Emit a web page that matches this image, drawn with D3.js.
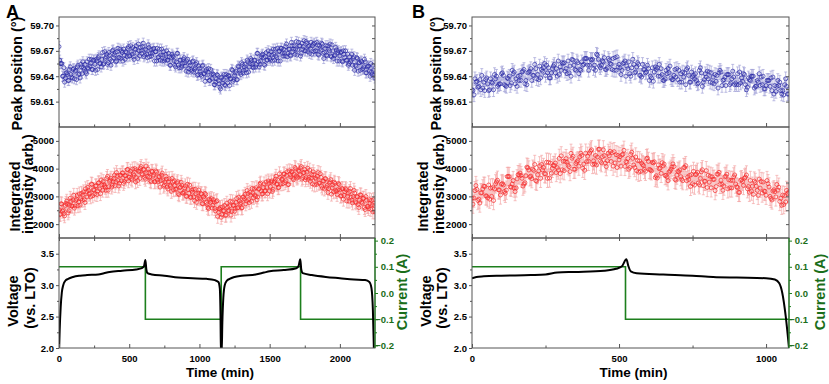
<!DOCTYPE html>
<html><head><meta charset="utf-8">
<script src="https://cdn.jsdelivr.net/npm/d3@7"></script>
<style>
body{margin:0;background:#fff}
text{font-family:Arial,"Liberation Sans",sans-serif;font-weight:bold}
</style></head>
<body><svg id="c" width="829" height="384"></svg>
<script>
// ---------------- data ----------------
// scans every 10 min; extra interleaved scan sets start at the given offsets (min)
const stepA = 10, offsetsA = [0, 5];
const stepB = 10, offsetsB = [0, 3.3, 6.7];

const peakA = [59.675,59.655,59.655,59.640,59.633,59.644,59.642,59.635,59.651,59.639,
59.648,59.637,59.647,59.651,59.642,59.638,59.651,59.657,59.648,59.645,
59.657,59.649,59.652,59.660,59.648,59.659,59.647,59.658,59.662,59.655,
59.651,59.668,59.655,59.661,59.666,59.656,59.665,59.653,59.670,59.662,
59.668,59.658,59.673,59.662,59.661,59.668,59.672,59.660,59.668,59.673,
59.664,59.676,59.666,59.663,59.672,59.676,59.661,59.670,59.674,59.667,
59.679,59.665,59.671,59.662,59.674,59.667,59.664,59.672,59.658,59.669,
59.673,59.663,59.659,59.672,59.665,59.658,59.666,59.659,59.667,59.653,
59.662,59.664,59.658,59.651,59.667,59.653,59.659,59.650,59.655,59.662,
59.652,59.658,59.645,59.656,59.648,59.657,59.645,59.650,59.656,59.642,
59.649,59.642,59.652,59.643,59.634,59.648,59.645,59.635,59.648,59.637,
59.642,59.630,59.637,59.641,59.631,59.625,59.639,59.636,59.630,59.642,
59.632,59.640,59.637,59.648,59.634,59.641,59.646,59.636,59.651,59.644,
59.656,59.644,59.651,59.648,59.659,59.645,59.655,59.659,59.651,59.659,
59.651,59.667,59.657,59.654,59.663,59.666,59.654,59.663,59.659,59.670,
59.661,59.669,59.658,59.666,59.672,59.662,59.658,59.670,59.673,59.667,
59.672,59.664,59.678,59.667,59.672,59.664,59.676,59.672,59.666,59.681,
59.671,59.676,59.664,59.679,59.675,59.670,59.681,59.669,59.676,59.673,
59.666,59.678,59.679,59.670,59.677,59.665,59.673,59.679,59.667,59.668,
59.676,59.664,59.672,59.678,59.663,59.670,59.664,59.674,59.658,59.670,
59.664,59.669,59.657,59.666,59.670,59.659,59.653,59.663,59.659,59.653,
59.663,59.653,59.662,59.646,59.656,59.658,59.648,59.651,59.657,59.644,
59.652,59.646,59.655,59.642,59.647,59.638];
const peakA2 = [59.659,59.655,59.640,59.650,59.638,59.644,59.635,59.648,59.642,59.638,
59.649,59.646,59.636,59.653,59.643,59.654,59.643,59.650,59.654,59.643,
59.650,59.660,59.655,59.648,59.659,59.654,59.660,59.648,59.664,59.655,
59.660,59.654,59.669,59.663,59.654,59.668,59.660,59.658,59.671,59.665,
59.657,59.669,59.662,59.672,59.670,59.658,59.665,59.669,59.663,59.675,
59.664,59.669,59.674,59.660,59.672,59.667,59.678,59.664,59.670,59.675,
59.663,59.672,59.666,59.677,59.663,59.672,59.667,59.673,59.669,59.658,
59.662,59.672,59.665,59.658,59.669,59.660,59.670,59.659,59.663,59.653,
59.666,59.663,59.653,59.657,59.667,59.650,59.659,59.652,59.660,59.656,
59.646,59.660,59.649,59.653,59.646,59.658,59.648,59.654,59.641,59.652,
59.646,59.640,59.653,59.643,59.646,59.638,59.649,59.635,59.642,59.643,
59.630,59.633,59.642,59.635,59.627,59.638,59.632,59.642,59.629,59.639,
59.641,59.629,59.637,59.647,59.636,59.644,59.636,59.652,59.647,59.642,
59.654,59.647,59.654,59.644,59.657,59.651,59.661,59.654,59.650,59.659,
59.654,59.667,59.651,59.658,59.665,59.662,59.653,59.668,59.659,59.666,
59.659,59.665,59.672,59.659,59.664,59.673,59.669,59.658,59.673,59.664,
59.667,59.675,59.663,59.672,59.665,59.680,59.669,59.676,59.672,59.665,
59.680,59.676,59.667,59.672,59.682,59.670,59.679,59.675,59.667,59.680,
59.676,59.669,59.670,59.680,59.666,59.676,59.671,59.678,59.661,59.673,
59.665,59.676,59.670,59.664,59.677,59.661,59.665,59.671,59.668,59.658,
59.668,59.658,59.670,59.662,59.659,59.666,59.655,59.657,59.666,59.661,
59.647,59.652,59.661,59.656,59.647,59.657,59.649,59.660,59.644,59.651,
59.652,59.640,59.645,59.653,59.641];
const intA = [2510,2360,2720,2510,2300,2750,2720,2480,2930,2660,
2870,2575,2850,3035,2800,2685,3110,3055,2880,3275,
2980,3215,3120,3445,3020,3225,3370,3065,3480,3265,
3590,3222,3424,3326,3648,3220,3542,3654,3406,3638,
3390,3858,3576,3474,3762,3840,3468,3756,3624,3972,
3690,3910,3590,3810,4000,3680,3570,3910,4010,3810,
3970,3686,4092,3718,3854,3570,3904,3728,3522,3916,
3590,3717,3334,3761,3588,3415,3722,3339,3526,3413,
3180,3518,3556,3264,3482,3100,3318,3506,3124,3162,
3380,2998,3246,3404,2962,3150,2978,3256,2784,3122,
2950,3102,2744,2986,3108,2780,2602,2904,2786,2578,
2880,2560,2810,2280,2560,2600,2344,2478,2672,2326,
2610,2490,2820,2460,2670,2460,2790,2580,2970,2730,
2580,2970,2910,2730,3210,2880,3150,2820,3120,3270,
3000,2875,3260,3435,3190,3095,3450,3205,3320,3555,
3190,3515,3180,3505,3620,3435,3310,3815,3450,3625,
3800,3493,3756,3419,3922,3705,3878,3601,4044,3737,
3700,3904,4018,3622,3856,3970,3676,4012,3688,3544,
3790,3885,3410,3625,3720,3485,3820,3375,3560,3265,
3630,3395,3280,3525,3080,3415,3510,3215,3070,3465,
3230,3025,3270,3035,3280,2835,3110,3175,2970,2765,
3220,2807,2994,2701,2858,3045,2752,2939,2526,2863,
2630,2880,2530,2690,2880,2440];
const intA2 = [2345,2735,2465,2375,2675,2825,2405,2675,2825,2645,
3038,2653,2898,2663,3088,2913,2858,3163,2778,3173,
3323,3078,2983,3428,3243,3088,3383,3198,3493,3098,
3421,3533,3375,3217,3719,3351,3583,3335,3537,3769,
3519,3747,3375,3753,3561,3849,3537,3735,3963,3561,
3815,3645,3985,3755,3525,3955,3905,3645,4075,3785,
3963,3619,3845,3981,3697,3527,3891,3775,3539,3873,
3519,3706,3563,3840,3367,3524,3621,3268,3635,3372,
3649,3237,3395,3253,3531,3059,3337,3405,3113,3301,
3009,3437,3115,2973,3221,3259,2847,3095,2923,3231,
2906,3088,2730,2912,3064,2706,2558,2860,2922,2684,
2795,2475,2845,2435,2535,2247,2621,2485,2319,2753,
2475,2655,2325,2805,2685,2565,2925,2595,2835,2775,
2595,2985,3075,2835,3105,2775,3045,3285,2955,3045,
3313,2978,3273,3478,3083,3318,3193,3518,3093,3478,
3353,3558,3253,3548,3723,3448,3323,3678,3613,3458,
3812,3565,3888,3431,3784,3897,3650,3793,3996,3659,
3937,3781,4075,3679,3853,3598,3874,3610,3946,3652,
3448,3783,3668,3433,3858,3473,3688,3303,3548,3643,
3318,3143,3478,3603,3308,3163,3468,3173,3238,3423,
3008,3283,2898,3173,3238,3003,2828,3283,2868,2993,
3119,2766,2983,2600,3057,2794,2921,2598,2995,2642,
2560,2750,2850,2440,2660];
const peakB = [59.624,59.637,59.627,59.624,59.633,59.638,59.624,59.632,59.637,59.630,
59.643,59.630,59.638,59.629,59.643,59.637,59.635,59.645,59.631,59.644,
59.649,59.641,59.637,59.652,59.646,59.641,59.650,59.644,59.654,59.640,
59.651,59.655,59.649,59.644,59.660,59.648,59.656,59.647,59.654,59.661,
59.653,59.660,59.647,59.660,59.653,59.662,59.650,59.655,59.661,59.647,
59.654,59.647,59.658,59.649,59.640,59.654,59.651,59.641,59.654,59.644,
59.649,59.638,59.645,59.650,59.640,59.635,59.647,59.644,59.636,59.648,
59.636,59.643,59.639,59.648,59.633,59.639,59.643,59.632,59.644,59.636,
59.646,59.633,59.639,59.634,59.644,59.629,59.639,59.642,59.632,59.639,
59.630,59.645,59.634,59.630,59.638,59.640,59.626,59.635,59.629,59.640,
59.629,59.635,59.623,59.629,59.635,59.623,59.618,59.628];
const peakB2 = [59.623,59.633,59.628,59.641,59.623,59.631,59.637,59.624,59.640,59.631,
59.644,59.629,59.637,59.632,59.645,59.628,59.641,59.646,59.635,59.645,
59.635,59.654,59.642,59.638,59.650,59.653,59.638,59.649,59.644,59.658,
59.647,59.656,59.643,59.652,59.659,59.647,59.643,59.657,59.661,59.653,
59.660,59.649,59.666,59.652,59.658,59.648,59.661,59.654,59.647,59.663,
59.650,59.655,59.640,59.657,59.650,59.644,59.656,59.641,59.648,59.645,
59.635,59.650,59.651,59.640,59.649,59.635,59.643,59.652,59.636,59.639,
59.647,59.633,59.644,59.650,59.633,59.641,59.635,59.647,59.628,59.643,
59.637,59.644,59.631,59.641,59.647,59.635,59.629,59.642,59.637,59.630,
59.643,59.632,59.643,59.624,59.636,59.640,59.628,59.633,59.639,59.625,
59.635,59.628,59.639,59.622,59.629,59.619,59.630,59.619];
const peakB3 = [59.618,59.634,59.636,59.626,59.636,59.623,59.633,59.642,59.628,59.631,
59.641,59.628,59.640,59.647,59.631,59.640,59.635,59.648,59.630,59.646,
59.641,59.649,59.636,59.648,59.655,59.644,59.638,59.652,59.649,59.642,
59.656,59.646,59.658,59.640,59.653,59.658,59.648,59.653,59.661,59.647,
59.659,59.653,59.665,59.650,59.657,59.648,59.659,59.648,59.662,59.651,
59.642,59.656,59.652,59.643,59.660,59.645,59.654,59.639,59.648,59.653,
59.640,59.634,59.648,59.654,59.642,59.637,59.649,59.638,59.641,59.649,
59.633,59.645,59.630,59.641,59.645,59.637,59.631,59.650,59.633,59.639,
59.645,59.632,59.642,59.626,59.645,59.636,59.642,59.630,59.646,59.632,
59.630,59.638,59.642,59.627,59.635,59.640,59.628,59.643,59.630,59.625,
59.635,59.638,59.619,59.628,59.633,59.623,59.637,59.619];
const intB = [2930,3205,2850,3125,3365,3010,2900,3315,3450,3235,
3440,3175,3715,3345,3570,3305,3775,3650,3490,4030,
3730,3935,3545,4100,3955,3810,4225,3835,4110,4035,
3820,4265,4360,4070,4375,3980,4285,4555,4160,4255,
4560,4150,4475,4695,4215,4470,4285,4625,4090,4500,
4315,4495,4080,4365,4510,4130,3925,4280,4145,3905,
4260,3920,4245,3660,4020,4100,3760,3875,4060,3615,
3905,3710,4040,3565,3755,3455,3785,3485,3885,3550,
3320,3728,3611,3354,3867,3435,3703,3271,3574,3702,
3340,3142,3539,3691,3353,3190,3552,3214,3296,3518,
3040,3340,2870,3170,3225,2930,2705,3215];
const intB2 = [2720,3390,2900,3130,3360,2950,3300,2850,3520,3230,
3460,3110,3720,3330,3300,3630,3840,3370,3740,3950,
3640,4150,3780,3650,4040,4230,3660,4010,4200,3950,
4460,3925,4230,3895,4440,4185,4090,4475,3940,4445,
4630,4280,4130,4700,4430,4200,4550,4260,4610,4040,
4430,4520,4250,3980,4590,4040,4290,3900,4110,4360,
3970,4225,3680,4135,3830,4165,3700,3915,4170,3585,
3880,3620,4040,3700,3360,3900,3800,3420,3960,3540,
3760,3308,3616,3804,3432,3220,3728,3596,3304,3772,
3320,3577,3394,3771,3148,3365,3502,3039,3536,3193,
3570,3000,3190,2980,3330,2680,3030,3100];
const intB3 = [2940,3250,2760,3270,3020,3410,3000,3270,3580,3050,
3413,3223,3713,3443,3173,3783,3753,3443,4053,3703,
3980,3570,3920,4150,3820,3650,4200,4110,3860,4370,
3957,4262,4127,4552,3977,4242,4427,4012,4557,4262,
4677,4167,4417,4267,4677,4073,4463,4573,4203,4473,
4090,4660,4230,4040,4370,4420,3870,4200,3970,4380,
3953,4208,3743,3998,4213,3748,3563,3978,4073,3768,
3947,3567,4107,3607,3787,3407,3867,3647,3387,3927,
3512,3700,3208,3796,3584,3372,3800,3308,3576,3444,
3145,3602,3659,3276,3573,3070,3367,3624,3121,3178,
3457,2927,3237,3427,2817,3047,2797,3147];
const peakErrA = 0.006, peakErrB = 0.008;
const intErrA = 250, intErrB = 330;

const voltTimeA = [0,5,12,20,30,45,65,100,150,200,280,320,360,450,550,590,605,615,622,630,660,750,850,950,1050,1110,1135,1145,1150,1153,
  1158,1163,1170,1180,1195,1215,1250,1300,1400,1460,1500,1600,1690,1705,1718,1725,1735,1800,1900,2000,2100,2180,2210,2225,2235,2243];
const voltA = [1.9,2.3,2.65,2.88,3.0,3.07,3.1,3.13,3.15,3.16,3.17,3.19,3.21,3.23,3.25,3.27,3.3,3.4,3.25,3.19,3.17,3.15,3.12,3.11,3.10,3.08,3.05,2.95,2.5,1.9,
  1.9,2.4,2.8,3.0,3.07,3.1,3.13,3.15,3.17,3.2,3.22,3.24,3.27,3.3,3.41,3.25,3.19,3.16,3.13,3.11,3.09,3.08,3.05,2.95,2.6,1.9];
const voltTimeB = [0,15,40,100,200,250,290,350,450,490,510,525,532,540,560,650,750,820,900,1000,1030,1045,1055,1067,1078];
const voltB = [3.11,3.13,3.14,3.15,3.16,3.17,3.2,3.21,3.23,3.26,3.3,3.41,3.3,3.22,3.19,3.17,3.15,3.13,3.12,3.11,3.09,3.03,2.88,2.5,2.0];
const curTimeA = [0,615,1155,1720,2250];
const curA = [0.1,-0.1,0.1,-0.1,-0.1];
const curTimeB = [0,522,1078];
const curB = [0.1,-0.1,-0.1];

const xTicksA = [0,500,1000,1500,2000];
const xTicksB = [0,500,1000];
const peakTicks = [59.61,59.64,59.67,59.70];
const intTicks = [2000,3000,4000,5000];
const voltTicks = [2.0,2.5,3.0,3.5];
const curTicks = [-0.2,-0.1,0.0,0.1,0.2];

// ---------------- drawing ----------------
const svg = d3.select("#c");
const ROW = {peak:[17,127], int:[127,238], volt:[238,348]};
const yP = d3.scaleLinear().domain([59.58,59.71]).range([ROW.peak[1],ROW.peak[0]]);
const yI = d3.scaleLinear().domain([1500,5500]).range([ROW.int[1],ROW.int[0]]);
const yV = d3.scaleLinear().domain([2.0,3.75]).range([ROW.volt[1],ROW.volt[0]]);
const yC = d3.scaleLinear().domain([-0.21,0.21]).range([ROW.volt[1],ROW.volt[0]]);

const GREEN = "#1d7f1d", GREENT = "#1a6e1a", FRAME = "#555";
const blueBar = "#a3a3d8", bluePt = "#2b2ba6", redBar = "#f3a6a6", redPt = "#f52a2a";

const panels = [
  {id:"A", x0:59, x1:375, tMax:2250, step:stepA, offs:offsetsA, peak:[peakA,peakA2], inten:[intA,intA2], pe:peakErrA, ie:intErrA,
   vt:voltTimeA, v:voltA, ct:curTimeA, c:curA, xt:xTicksA,
   letter:[6,18], lab:{peak:17, int1:[14.5,196.5], int2:[28,184], v1:[13,301], v2:[29.5,298], cur:402}},
  {id:"B", x0:472, x1:789, tMax:1078, step:stepB, offs:offsetsB, peak:[peakB,peakB2,peakB3], inten:[intB,intB2,intB3], pe:peakErrB, ie:intErrB,
   vt:voltTimeB, v:voltB, ct:curTimeB, c:curB, xt:xTicksB,
   letter:[412,18], lab:{peak:435.5, int1:[422.5,196.5], int2:[439,184], v1:[426,301], v2:[441.5,298], cur:820}}
];

function styleAxis(g, color){
  g.select(".domain").remove();
  g.selectAll(".tick line").attr("stroke", color).attr("stroke-width",1);
  g.selectAll(".tick text").attr("fill", color).style("font-size","9.5px").style("font-weight","bold")
    .style("font-family",'Arial,"Liberation Sans",sans-serif');
}
function minorVals(majors){
  const out=[]; for(let i=0;i<majors.length-1;i++) out.push((majors[i]+majors[i+1])/2);
  return out;
}

panels.forEach((p)=>{
  const x = d3.scaleLinear().domain([0,p.tMax]).range([p.x0,p.x1]);
  const g = svg.append("g");
  const xMajor = p.xt;
  const xMinor = d3.range(250, p.tMax, 500);

  const clipId = "clip"+p.id;
  svg.append("clipPath").attr("id",clipId).append("rect")
    .attr("x",p.x0).attr("y",ROW.peak[0]).attr("width",p.x1-p.x0).attr("height",ROW.volt[1]-ROW.peak[0]);
  const data = g.append("g").attr("clip-path",`url(#${clipId})`);

  function scatter(sets, y, err, cBar, cPt){
    const pts = [];
    sets.forEach((vals,si)=>vals.forEach((v,i)=>pts.push({t:i*p.step+p.offs[si], v})));
    pts.sort((a,b)=>a.t-b.t);
    data.append("path").attr("fill","none").attr("stroke",cBar).attr("stroke-width",0.7)
      .attr("d", pts.map(d=>{const xx=x(d.t), a=y(d.v+err), b=y(d.v-err);
        return `M${xx},${a}V${b}M${xx-1.5},${a}h3M${xx-1.5},${b}h3`;}).join(""));
    data.append("g").selectAll("circle").data(pts).join("circle")
      .attr("cx",d=>x(d.t)).attr("cy",d=>y(d.v)).attr("r",2)
      .attr("fill","none").attr("stroke",cPt).attr("stroke-width",0.7);
  }
  scatter(p.peak, yP, p.pe, blueBar, bluePt);
  scatter(p.inten, yI, p.ie, redBar, redPt);

  const cur = p.ct.map((t,i)=>[t,p.c[i]]);
  data.append("path").attr("fill","none").attr("stroke",GREEN).attr("stroke-width",1.6)
    .attr("d", d3.line().x(d=>x(d[0])).y(d=>yC(d[1])).curve(d3.curveStepAfter)(cur));
  const volt = p.vt.map((t,i)=>[t,p.v[i]]);
  data.append("path").attr("fill","none").attr("stroke","#000").attr("stroke-width",2)
    .attr("stroke-linejoin","round")
    .attr("d", d3.line().x(d=>x(d[0])).y(d=>yV(d[1])).curve(d3.curveMonotoneX)(volt));

  [ROW.peak, ROW.int, ROW.volt].forEach(r=>{
    g.append("rect").attr("x",p.x0).attr("y",r[0]).attr("width",p.x1-p.x0).attr("height",r[1]-r[0])
      .attr("fill","none").attr("stroke",FRAME).attr("stroke-width",1);
  });
  g.append("line").attr("x1",p.x1).attr("x2",p.x1).attr("y1",ROW.volt[0]).attr("y2",ROW.volt[1])
    .attr("stroke",GREEN).attr("stroke-width",1.2);

  [ROW.peak[1], ROW.int[1], ROW.volt[1]].forEach((yy,ri)=>{
    const ax = g.append("g").attr("transform",`translate(0,${yy})`);
    ax.call(d3.axisBottom(x).tickValues(xMajor).tickSize(-4).tickPadding(7)
      .tickFormat(ri===2 ? d3.format("d") : ""));
    styleAxis(ax, "#000"); ax.selectAll(".tick line").attr("stroke",FRAME);
    const mn = g.append("g").attr("transform",`translate(0,${yy})`);
    mn.call(d3.axisBottom(x).tickValues(xMinor).tickSize(-2.5).tickFormat(""));
    styleAxis(mn,FRAME);
  });
  {
    const ax = g.append("g").attr("transform",`translate(0,${ROW.volt[0]})`);
    ax.call(d3.axisTop(x).tickValues(xMajor.concat(xMinor)).tickSize(-3).tickFormat(""));
    styleAxis(ax,FRAME);
  }

  const leftDefs = [
    {y:yP, t:peakTicks, f:d3.format(".2f")},
    {y:yI, t:intTicks, f:d3.format("d")},
    {y:yV, t:voltTicks, f:d3.format(".1f")}
  ];
  leftDefs.forEach((d,di)=>{
    const ax = g.append("g").attr("transform",`translate(${p.x0},0)`);
    ax.call(d3.axisLeft(d.y).tickValues(d.t).tickSize(3).tickPadding(2).tickFormat(d.f));
    styleAxis(ax,"#000"); ax.selectAll(".tick line").attr("stroke",FRAME);
    const mn = g.append("g").attr("transform",`translate(${p.x0},0)`);
    mn.call(d3.axisLeft(d.y).tickValues(minorVals(d.t)).tickSize(2).tickFormat(""));
    styleAxis(mn,FRAME);
    if(di<2){
      const r = g.append("g").attr("transform",`translate(${p.x1},0)`);
      r.call(d3.axisRight(d.y).tickValues(d.t.concat(minorVals(d.t))).tickSize(-3).tickFormat(""));
      styleAxis(r,FRAME);
    }
  });
  {
    const ax = g.append("g").attr("transform",`translate(${p.x1},0)`);
    ax.call(d3.axisRight(yC).tickValues(curTicks).tickSize(3).tickPadding(2).tickFormat(d3.format(".1f")));
    styleAxis(ax,GREENT); ax.selectAll(".tick line").attr("stroke",GREEN);
    ax.selectAll(".tick text").attr("text-anchor","end").attr("x",19);
    const mn = g.append("g").attr("transform",`translate(${p.x1},0)`);
    mn.call(d3.axisRight(yC).tickValues(minorVals(curTicks)).tickSize(2).tickFormat(""));
    styleAxis(mn,GREEN);
  }

  const rot = (cx,cy,txt,size,color)=>g.append("text")
    .attr("transform",`translate(${cx},${cy}) rotate(-90)`).attr("text-anchor","middle")
    .attr("dy","0.35em").style("font-size",size+"px").attr("fill",color||"#000").text(txt);
  rot(p.lab.peak, 73.5, "Peak position (°)", 14.5);
  rot(p.lab.int1[0], p.lab.int1[1], "Integrated", 14.5);
  rot(p.lab.int2[0], p.lab.int2[1], "intensity (arb.)", 14.5);
  rot(p.lab.v1[0], p.lab.v1[1], "Voltage", 14.5);
  rot(p.lab.v2[0], p.lab.v2[1], "(vs. LTO)", 14.5);
  rot(p.lab.cur, 292, "Current (A)", 14.5, GREENT);
  g.append("text").attr("x",(p.x0+p.x1)/2+3).attr("y",377).attr("text-anchor","middle")
    .style("font-size","13.5px").text("Time (min)");
  g.append("text").attr("x",p.letter[0]).attr("y",p.letter[1]).style("font-size","18px").text(p.id);
});
</script></body></html>
